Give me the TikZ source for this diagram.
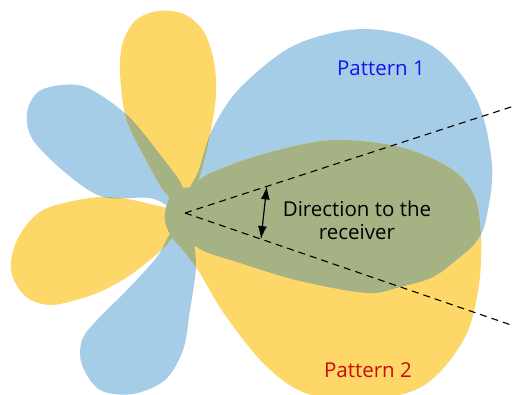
\documentclass[tikz,border=0pt]{standalone}
\usepackage{fontspec}
\setmainfont{Open Sans}
\usetikzlibrary{arrows.meta,calc}
\definecolor{lobeblue}{RGB}{166,205,232}
\definecolor{lobeyellow}{RGB}{253,216,104}
\definecolor{lobeboth}{RGB}{165,178,132}
\definecolor{patblue}{RGB}{20,20,240}
\definecolor{patred}{RGB}{205,10,10}
% lobes of pattern 1
\def\blueMain{plot[smooth cycle,tension=0.55] coordinates {(184,200) (198,172) (212,130) (240,88) (295,45) (365,29) (432,46) (476,98) (492,165) (486,220) (476,242) (460,257) (433,277) (400,287) (367,293) (300,281) (240,263) (198,248) (186,228)}}
\def\blueUp{plot[smooth cycle,tension=0.55] coordinates {(175,208) (150,198) (103,197) (67,174) (33,140) (27,113) (38,92) (62,85) (88,88) (127,115) (158,152) (183,188)}}
\def\blueDown{plot[smooth cycle,tension=0.55] coordinates {(190,235) (196,265) (190,310) (183,350) (165,380) (133,394) (100,390) (82,365) (82,340) (97,320) (127,290) (157,257) (172,232)}}
\def\blueCore{plot[smooth cycle,tension=0.6] coordinates {(170,197) (184,188) (198,192) (202,215) (199,240) (188,250) (174,240) (165,220)}}
% lobes of pattern 2
\def\yellowMain{plot[smooth cycle,tension=0.55] coordinates {(188,200) (205,176) (267,153) (333,140) (400,147) (450,168) (474,195) (481,235) (479,285) (467,333) (440,372) (410,392) (360,400) (305,393) (265,365) (225,315) (198,270) (175,235)}}
\def\yellowTop{plot[smooth cycle,tension=0.55] coordinates {(168,196) (145,158) (126,118) (120,72) (123,42) (136,20) (158,11) (184,14) (204,32) (214,62) (216,95) (210,135) (200,176) (190,200)}}
\def\yellowLeft{plot[smooth cycle,tension=0.55] coordinates {(172,238) (140,268) (110,287) (83,298) (50,305) (25,296) (11,270) (18,238) (43,210) (90,198) (120,198) (150,204) (172,212)}}
\def\yellowCore{plot[smooth cycle,tension=0.6] coordinates {(170,197) (184,188) (198,192) (202,215) (199,240) (188,250) (174,240) (165,220)}}
\begin{document}
\begin{tikzpicture}[x=1pt,y=-1pt,
    beam/.style={black, line width=1.1pt, dash pattern=on 7pt off 5pt},
    label/.style={font=\fontsize{20.5}{23}\selectfont, align=center}]
    \useasboundingbox (0,0) rectangle (514,395);
    % the two patterns
    \foreach \b in {\blueMain,\blueUp,\blueDown,\blueCore} \fill[lobeblue] \b;
    \foreach \y in {\yellowMain,\yellowTop,\yellowLeft,\yellowCore} \fill[lobeyellow] \y;
    \foreach \b in {\blueMain,\blueUp,\blueDown,\blueCore} {
        \begin{scope}
            \clip \b;
            \foreach \y in {\yellowMain,\yellowTop,\yellowLeft,\yellowCore} \fill[lobeboth] \y;
        \end{scope}
    }
    % direction to the receiver
    \coordinate (tx) at (185,213);
    \coordinate (up) at (514,106);
    \coordinate (dn) at (514,326);
    \draw[beam] (tx) -- (up);
    \draw[beam] (tx) -- (dn);
    \coordinate (a1) at ($(tx)!0.2485!(up)$);
    \coordinate (a2) at ($(tx)!0.231!(dn)$);
    \draw[line width=1.2pt, {Latex[length=13pt,width=9pt]}-{Latex[length=13pt,width=9pt]}] (a1) -- (a2);
    \node[label] (dir) at (357,220) {Direction to the\\receiver};
    \node[label, text=patblue] (p1) at (381,68) {Pattern 1};
    \node[label, text=patred] (p2) at (368,370) {Pattern 2};
\end{tikzpicture}
\end{document}
